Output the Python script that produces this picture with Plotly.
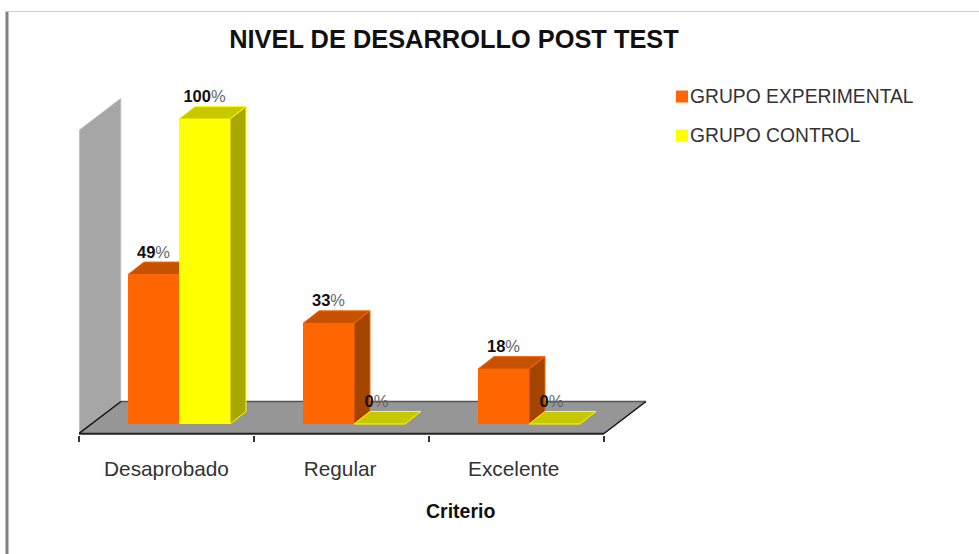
import plotly.graph_objects as go

# ---- data ----
categories = ["Desaprobado", "Regular", "Excelente"]
grupo_experimental = [49, 33, 18]
grupo_control = [100, 0, 0]
series_names = ["GRUPO EXPERIMENTAL", "GRUPO CONTROL"]
chart_title = "NIVEL DE DESARROLLO POST TEST"
axis_title = "Criterio"

# ---- style ----
W, H = 979, 554
ORANGE, ORANGE_TOP, ORANGE_SIDE = "#FF6600", "#C65200", "#A34400"
YELLOW, YELLOW_TOP, YELLOW_SIDE = "#FFFF00", "#C8C800", "#A8A800"
FONT = "Liberation Sans"

# pixel calibration of the data axes
X0_PX, X_UNIT = 79.0, 175.0
Y0_PX, Y_UNIT = 424.0, 3.05
PLOT_L, PLOT_R, PLOT_T, PLOT_B = X0_PX, 660.0, 90.0, 435.0
x_range = [0, (PLOT_R - X0_PX) / X_UNIT]
y_range = [-(PLOT_B - Y0_PX) / Y_UNIT, (Y0_PX - PLOT_T) / Y_UNIT]

BAR_W = 51 / X_UNIT
OFFSETS = [-0.0743, 0.2171]
DX, DY = 16 / X_UNIT, 12.5 / Y_UNIT          # bar depth
FLOOR_DX, FLOOR_DY = 42 / X_UNIT, 32 / Y_UNIT  # floor depth
FRONT_Y = -(433.5 - Y0_PX) / Y_UNIT
WALL_TOP = (Y0_PX - 130) / Y_UNIT


def poly(points, fill, line=None, width=1):
    path = "M" + " L".join(f"{x},{y}" for x, y in points) + " Z"
    return dict(type="path", path=path, xref="x", yref="y", layer="below",
                fillcolor=fill, line=dict(color=line or fill, width=width))


def seg(x0, y0, x1, y1, color, width=1, dash="solid"):
    return dict(type="line", xref="x", yref="y", x0=x0, y0=y0, x1=x1, y1=y1,
                layer="below", line=dict(color=color, width=width, dash=dash))


def px_x(px):
    return px / W


def px_y(px):
    return 1 - px / H


n = len(categories)
shapes = []
# back wall and floor
shapes.append(poly([(0, FRONT_Y), (FLOOR_DX, FRONT_Y + FLOOR_DY),
                    (FLOOR_DX, WALL_TOP + FLOOR_DY), (0, WALL_TOP)], "#A6A6A6", "#D9D9D9"))
shapes.append(poly([(0, FRONT_Y), (n, FRONT_Y), (n + FLOOR_DX, FRONT_Y + FLOOR_DY),
                    (FLOOR_DX, FRONT_Y + FLOOR_DY)], "#969696", "#969696"))
shapes.append(seg(FLOOR_DX, FRONT_Y + FLOOR_DY, n + FLOOR_DX, FRONT_Y + FLOOR_DY, "#555555", 1.5))
shapes.append(seg(0, FRONT_Y, FLOOR_DX, FRONT_Y + FLOOR_DY, "#111111", 1.5))
shapes.append(seg(n, FRONT_Y, n + FLOOR_DX, FRONT_Y + FLOOR_DY, "#111111", 1.5))
shapes.append(seg(0, FRONT_Y - 0.1, n, FRONT_Y - 0.1, "#222222", 2))

# 3-D faces of the bars, derived from the values
for vals, off, base, top, side in [
    (grupo_experimental, OFFSETS[0], ORANGE, ORANGE_TOP, ORANGE_SIDE),
    (grupo_control, OFFSETS[1], YELLOW, YELLOW_TOP, YELLOW_SIDE),
]:
    for i, v in enumerate(vals):
        c = i + 0.5 + off
        l, r = c - BAR_W / 2, c + BAR_W / 2
        shapes.append(poly([(l, v), (r, v), (r + DX, v + DY), (l + DX, v + DY)], top, base))
        if v > 0:
            shapes.append(poly([(r, 0), (r + DX, DY), (r + DX, v + DY), (r, v)], side, base))

# frame of the original picture
shapes.append(dict(type="line", xref="paper", yref="paper", x0=px_x(7), x1=px_x(7),
                   y0=0, y1=px_y(11), line=dict(color="#808080", width=3)))
shapes.append(dict(type="line", xref="paper", yref="paper", x0=px_x(6), x1=1,
                   y0=px_y(11.5), y1=px_y(11.5), line=dict(color="#D0D0D0", width=1)))

# legend (swatch + label)
for (name, color, y_px) in zip(series_names, [ORANGE, YELLOW], [96.5, 135.5]):
    shapes.append(dict(type="rect", xref="paper", yref="paper",
                       x0=px_x(676), x1=px_x(688), y0=px_y(y_px + 6), y1=px_y(y_px - 6),
                       fillcolor=color, line=dict(width=0)))

fig = go.Figure()
text_x, text_y, text_lbl = [], [], []
for name, vals, off, color in [
    (series_names[0], grupo_experimental, OFFSETS[0], ORANGE),
    (series_names[1], grupo_control, OFFSETS[1], YELLOW),
]:
    xs = [i + 0.5 + off for i in range(n)]
    fig.add_trace(go.Bar(name=name, x=xs, y=vals, width=BAR_W, marker=dict(color=color, line=dict(width=0)),
                         showlegend=False))
    for x, v in zip(xs, vals):
        text_x.append(x - (3 / X_UNIT if v == 0 else 0))
        text_y.append(v + 21 / Y_UNIT)
        text_lbl.append(f"<b>{v}</b><span style='color:#666666'>%</span>")

fig.add_trace(go.Scatter(x=text_x, y=text_y, text=text_lbl, mode="text", textposition="middle center",
                         textfont=dict(family=FONT, size=16.5, color="#111111"), showlegend=False,
                         cliponaxis=False, hoverinfo="skip"))

annotations = [
    dict(text=f"<b>{axis_title}</b>", xref="paper", yref="paper", x=px_x(460.5), y=px_y(511),
         xanchor="center", yanchor="middle", showarrow=False, font=dict(family=FONT, size=19.5, color="#111111")),
]
for name, y_px in zip(series_names, [96.5, 135.5]):
    annotations.append(dict(text=name, xref="paper", yref="paper", x=px_x(688), y=px_y(y_px),
                            xanchor="left", yanchor="middle", showarrow=False,
                            font=dict(family=FONT, size=19.3, color="#333333")))

fig.update_layout(
    width=W, height=H, autosize=False, bargap=0, barmode="overlay",
    margin=dict(l=0, r=0, t=0, b=0), paper_bgcolor="white", plot_bgcolor="white",
    showlegend=False, shapes=shapes, annotations=annotations,
    title=dict(text=f"<b>{chart_title}</b>", x=454 / W, y=1 - 39 / H, xref="container", yref="container",
               xanchor="center", yanchor="middle", font=dict(family=FONT, size=25.4, color="#111111")),
    xaxis=dict(domain=[PLOT_L / W, PLOT_R / W], range=x_range, showgrid=False, zeroline=False, showline=False,
               tickmode="array", tickvals=[i + 0.5 - 0.008 * i for i in range(n)], ticktext=categories, ticks="",
               ticklabelstandoff=19, tickfont=dict(family=FONT, size=20.8, color="#333333"),
               minor=dict(tickmode="array", tickvals=list(range(n + 1)), ticks="outside", ticklen=6,
                          tickwidth=1.5, tickcolor="#333333")),
    yaxis=dict(domain=[1 - PLOT_B / H, 1 - PLOT_T / H], range=y_range, visible=False),
)
fig.write_html("out.html", config=dict(displayModeBar=False),
               post_script="document.body.style.margin='0';")
